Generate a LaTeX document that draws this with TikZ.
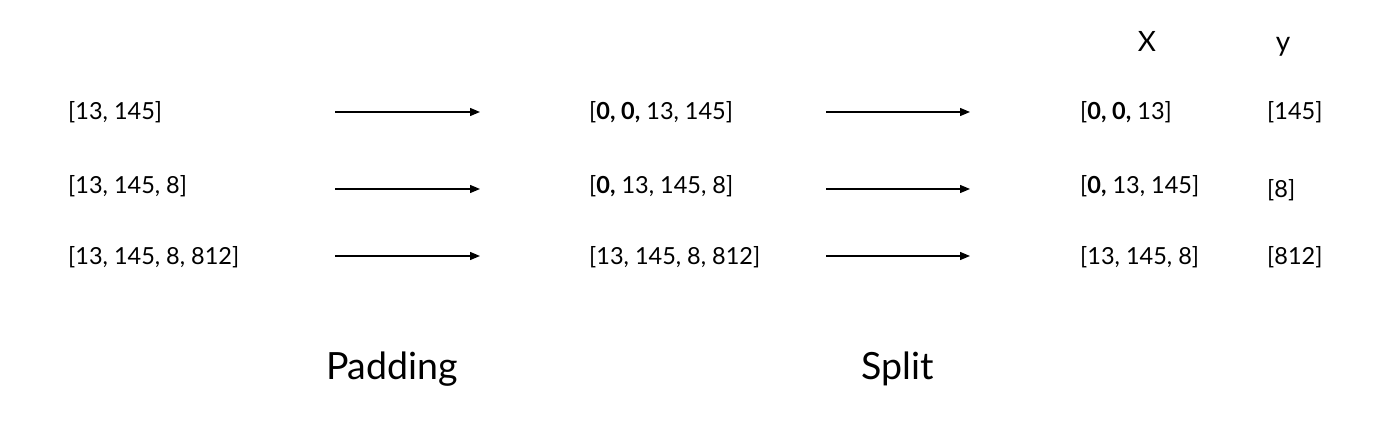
\documentclass[tikz,border=0pt]{standalone}
\usepackage{fontspec}
\setmainfont{Lato}
\usetikzlibrary{arrows.meta}
\begin{document}
\begin{tikzpicture}[x=1pt,y=-1pt,
  lbl/.style={anchor=base west,inner sep=0pt,font=\fontsize{23.5}{26}\selectfont},
  head/.style={anchor=base,inner sep=0pt,font=\fontsize{28}{30}\selectfont},
  caption/.style={anchor=base,inner sep=0pt,font=\fontsize{37.5}{40}\selectfont},
  arr/.style={line width=1.3pt,-{Triangle[length=10pt,width=8pt]}}]
\useasboundingbox[fill=white] (0,0) rectangle (1400,430);
% column 1
\node[lbl] (a1) at (68,120) {[13, 145]};
\node[lbl] (a2) at (68,194) {[13, 145, 8]};
\node[lbl] (a3) at (68,265) {[13, 145, 8, 812]};
% column 2
\node[lbl] (b1) at (589,120) {[\textbf{0, 0,} 13, 145]};
\node[lbl] (b2) at (589,194) {[\textbf{0,} 13, 145, 8]};
\node[lbl] (b3) at (589,265) {[13, 145, 8, 812]};
% column 3
\node[head] (hx) at (1147,52) {X};
\node[head] (hy) at (1283,52) {y};
\node[lbl] (c1) at (1080,120) {[\textbf{0, 0,} 13]};
\node[lbl] (c2) at (1080,194) {[\textbf{0,} 13, 145]};
\node[lbl] (c3) at (1080,265) {[13, 145, 8]};
\node[lbl] (d1) at (1267,120) {[145]};
\node[lbl] (d2) at (1267,198) {[8]};
\node[lbl] (d3) at (1267,265) {[812]};
% captions
\node[caption] (pad) at (392,379) {Padding};
\node[caption] (spl) at (898,379) {Split};
% arrows
\coordinate (p1s) at (335,112); \coordinate (p1e) at (480,112);
\coordinate (p2s) at (335,189); \coordinate (p2e) at (480,189);
\coordinate (p3s) at (335,256); \coordinate (p3e) at (480,256);
\coordinate (s1s) at (826,112); \coordinate (s1e) at (970,112);
\coordinate (s2s) at (826,189); \coordinate (s2e) at (970,189);
\coordinate (s3s) at (826,256); \coordinate (s3e) at (970,256);
\draw[arr] (p1s) -- (p1e);
\draw[arr] (p2s) -- (p2e);
\draw[arr] (p3s) -- (p3e);
\draw[arr] (s1s) -- (s1e);
\draw[arr] (s2s) -- (s2e);
\draw[arr] (s3s) -- (s3e);
\end{tikzpicture}
\end{document}
